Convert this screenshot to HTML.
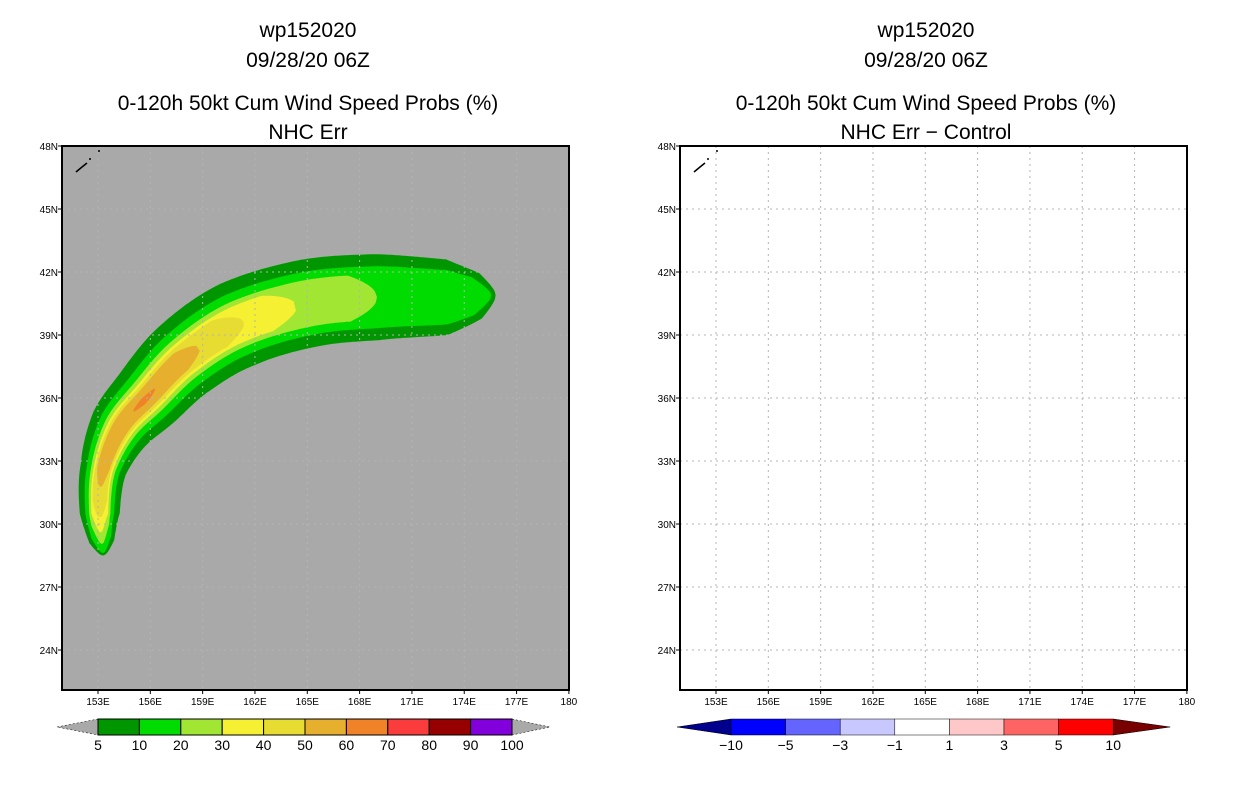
<!DOCTYPE html>
<html><head><meta charset="utf-8">
<style>
body{margin:0;background:#fff;}
svg{display:block;font-family:"Liberation Sans",sans-serif;}
</style></head>
<body>
<svg id="c" width="1236" height="800" viewBox="0 0 1236 800"></svg>
<script>
const latTicks=[48,45,42,39,36,33,30,27,24];
const lonTicks=[153,156,159,162,165,168,171,174,177,180];
const lonLabels=["153E","156E","159E","162E","165E","168E","171E","174E","177E","180"];
const probBounds=["5","10","20","30","40","50","60","70","80","90","100"];
const probColors=["#009600","#00dc00","#a0e632","#f5f032","#e6dc32","#e6af2d","#f08228","#fa3c3c","#960000","#8200dc"];
const diffLabels=["-10","-5","-3","-1","1","3","5","10"];
const diffColors=["#0000ff","#6464ff","#c8c8ff","#ffffff","#ffc8c8","#ff6464","#ff0000"];
// centerline of probability swath (lon, lat) and outer half-width (deg lat)
const trackLon=[153.3,153.1,153.3,154.3,155.9,158.0,161.0,165.0,169.0,173.0,175.8];
const trackLat=[28.5,30.5,32.6,34.6,36.1,37.9,39.5,40.5,40.8,40.8,40.9];
const trackHW=[0.35,0.95,1.1,1.5,1.75,1.95,2.1,2.1,2.05,1.8,0.6];
// level extents in track-node index units
const levelT0=[0,0.1,0.35,0.6,0.9,1.6,3.5];
const levelT1=[10,9.85,8.0,6.85,6.1,5.3,4.2];
const levelScale=[1,0.72,0.53,0.42,0.35,0.27,0.09];

const S=document.getElementById('c');
const NS='http://www.w3.org/2000/svg';
function mk(t,a,p){const e=document.createElementNS(NS,t);for(const k in a)e.setAttribute(k,a[k]);(p||S).appendChild(e);return e;}
function txt(x,y,s,size,anchor,name,p){const e=mk('text',{x:x,y:y,'font-size':size,'text-anchor':anchor||'middle',fill:'#000'},p);e.textContent=s;


return e;}

function panel(ox,title2,filled){
  const g=mk('g',{});
  
  
  const X0=ox,X1=ox+507,Y0=146,Y1=690;
  const xs=lon=>X0+36+(lon-153)*17.44;
  const ys=lat=>Y0+(48-lat)*21;
  const cx=ox+246;
  txt(cx,37,'wp152020',21,'middle','title-storm',g);
  txt(cx,67,'09/28/20 06Z',21,'middle','title-date',g);
  txt(cx,110,'0-120h 50kt Cum Wind Speed Probs (%)',21,'middle','title-product',g);
  txt(cx,139,title2,21,'middle','title-subtitle',g);
  const bg=mk('rect',{x:X0,y:Y0,width:X1-X0,height:Y1-Y0,fill:filled?'#a9a9a9':'#fff'},g);
  
  
  if(filled){
    const n=trackLon.length,pts=[];
    const N=400;
    for(let i=0;i<=N;i++){
      const t=i/N*(n-1),k=Math.min(Math.floor(t),n-2),f=t-k;
      const p0=Math.max(k-1,0),p3=Math.min(k+2,n-1);
      const cr=(a,b,c,d)=>0.5*((2*b)+(-a+c)*f+(2*a-5*b+4*c-d)*f*f+(-a+3*b-3*c+d)*f*f*f);
      const x=cr(xs(trackLon[p0]),xs(trackLon[k]),xs(trackLon[k+1]),xs(trackLon[p3]));
      const y=cr(ys(trackLat[p0]),ys(trackLat[k]),ys(trackLat[k+1]),ys(trackLat[p3]));
      const w=(trackHW[k]*(1-f)+trackHW[k+1]*f)*21;
      pts.push([x,y,w,t]);
    }
    levelT0.forEach((t0,L)=>{
      const t1=levelT1[L],sc=levelScale[L];
      const left=[],right=[];
      const sel=pts.filter(p=>p[3]>=t0&&p[3]<=t1);
      const tap=Math.min(0.4,(t1-t0)/2);
      sel.forEach((p,i)=>{
        const a=sel[Math.max(i-1,0)],b=sel[Math.min(i+1,sel.length-1)];
        let dx=b[0]-a[0],dy=b[1]-a[1];const d=Math.hypot(dx,dy)||1;dx/=d;dy/=d;
        const tp=Math.min(1,(p[3]-t0)/tap,(t1-p[3])/tap);
        const w=p[2]*sc*Math.sqrt(Math.max(tp,0));
        left.push([p[0]-dy*w,p[1]+dx*w]);right.push([p[0]+dy*w,p[1]-dx*w]);
      });
      const poly=left.concat(right.reverse()).map(q=>q[0].toFixed(1)+','+q[1].toFixed(1)).join(' ');
      const e=mk('polygon',{points:poly,fill:probColors[L]},g);
      
      
    });
  }
  lonTicks.slice(0,-1).forEach(l=>{const e=mk('line',{x1:xs(l),x2:xs(l),y1:Y0,y2:Y1,stroke:'#b4b4b4','stroke-dasharray':'2,4','stroke-width':1},g);
    });
  latTicks.slice(1).forEach(l=>{const e=mk('line',{x1:X0,x2:X1,y1:ys(l),y2:ys(l),stroke:'#b4b4b4','stroke-dasharray':'2,4','stroke-width':1},g);
    });
  const cst=mk('path',{d:`M${X0+14},${Y0+26} L${X0+20},${Y0+21} L${X0+25},${Y0+17} M${X0+27},${Y0+13} h2 M${X0+36},${Y0+5} h2`,stroke:'#000','stroke-width':1.5,fill:'none'},g);
  
  const fr=mk('rect',{x:X0,y:Y0,width:X1-X0,height:Y1-Y0,fill:'none',stroke:'#000','stroke-width':2},g);
  
  latTicks.forEach(l=>{mk('line',{x1:X0-4,x2:X0,y1:ys(l),y2:ys(l),stroke:'#000'},g);
    txt(X0-4,ys(l)+4,l+'N',10,'end','y-tick-label',g);});
  lonTicks.forEach((l,i)=>{mk('line',{x1:xs(l),x2:xs(l),y1:Y1,y2:Y1+4,stroke:'#000'},g);
    txt(xs(l),Y1+15,lonLabels[i],10,'middle','x-tick-label',g);});
  return {xs,ys};
}
panel(62,'NHC Err',true);
panel(680,'NHC Err \u2212 Control',false);

(function(){
  const x0=98,w=41.4,y=719,h=16;
  const lt=mk('polygon',{points:`57,727 ${x0},${y} ${x0},${y+h}`,fill:'#a9a9a9',stroke:'#000','stroke-width':0.5,'stroke-dasharray':'2,2'});
  
  const e1=x0+w*probColors.length;
  const rt=mk('polygon',{points:`${e1},${y} ${e1+38},727 ${e1},${y+h}`,fill:'#a9a9a9',stroke:'#000','stroke-width':0.5,'stroke-dasharray':'2,2'});
  
  probColors.forEach((c,i)=>{const r=mk('rect',{x:x0+i*w,y:y,width:w,height:h,fill:c,stroke:'#000','stroke-width':1});
    });
  probBounds.forEach((s,i)=>txt(x0+i*w,750,s,14,'middle','colorbar-label'));
})();
(function(){
  const x0=731,w=54.6,y=719,h=16;
  const lt=mk('polygon',{points:`677,727 ${x0},${y} ${x0},${y+h}`,fill:'#00008c',stroke:'#000','stroke-width':0.5});
  
  const e1=x0+w*diffColors.length;
  const rt=mk('polygon',{points:`${e1},${y} ${e1+57},727 ${e1},${y+h}`,fill:'#780000',stroke:'#000','stroke-width':0.5});
  
  diffColors.forEach((c,i)=>{const r=mk('rect',{x:x0+i*w,y:y,width:w,height:h,fill:c,stroke:'#000','stroke-width':0.5});
    });
  diffLabels.forEach((s,i)=>txt(x0+i*w,750,s.replace('-','\u2212'),14,'middle','diff-colorbar-label'));
})();
</script>
</body></html>
